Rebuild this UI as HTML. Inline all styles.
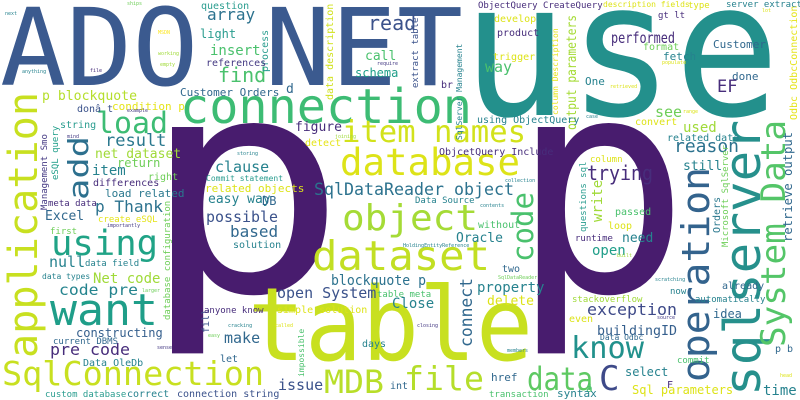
<!DOCTYPE html>
<html><head><meta charset="utf-8"><title>Word cloud</title>
<style>
html,body{margin:0;padding:0;background:#fff;}
svg{display:block;}
text{font-family:"DejaVu Sans Mono","Liberation Mono",monospace;}
</style></head>
<body>
<svg width="800" height="400" viewBox="0 0 800 400" xmlns="http://www.w3.org/2000/svg">
<rect width="800" height="400" fill="#ffffff"/>
<!-- giant words -->
<text transform="translate(140,291) scale(1.15,1)" font-size="300" fill="#481c6e">p</text>
<text x="510" y="291" font-size="300" fill="#481c6e">p</text>
<text x="0" y="85" font-size="107" fill="#3b5a8f" textLength="463" lengthAdjust="spacingAndGlyphs">ADO NET</text>
<text x="462" y="115" font-size="187" fill="#23908c" textLength="318" lengthAdjust="spacingAndGlyphs">use</text>
<text x="248" y="360" font-size="102" fill="#c8e020" textLength="285" lengthAdjust="spacingAndGlyphs">table</text>
<text x="180" y="123" font-size="48" fill="#3dbc74" textLength="292" lengthAdjust="spacingAndGlyphs">connection</text>
<text x="342" y="142" font-size="30" fill="#d2e21b" textLength="184" lengthAdjust="spacingAndGlyphs">item names</text>
<text x="340" y="175" font-size="37" fill="#dde318" textLength="180" lengthAdjust="spacingAndGlyphs">database</text>
<text x="314" y="195" font-size="17" fill="#2c728e" textLength="200" lengthAdjust="spacingAndGlyphs">SqlDataReader object</text>
<text x="342" y="230" font-size="36" fill="#a5db36" textLength="136" lengthAdjust="spacingAndGlyphs">object</text>
<text x="312" y="270" font-size="41" fill="#c2df23" textLength="178" lengthAdjust="spacingAndGlyphs">dataset</text>
<text x="331" y="285" font-size="14" fill="#2c728e" textLength="95" lengthAdjust="spacingAndGlyphs">blockquote p</text>
<text x="96" y="133" font-size="29" fill="#3dbc74" textLength="72" lengthAdjust="spacingAndGlyphs">load</text>
<text x="51" y="255" font-size="35" fill="#20a386" textLength="107" lengthAdjust="spacingAndGlyphs">using</text>
<text x="50" y="325" font-size="44" fill="#1f9e89" textLength="108" lengthAdjust="spacingAndGlyphs">want</text>
<text x="2" y="385" font-size="33" fill="#c8e020" textLength="262" lengthAdjust="spacingAndGlyphs">SqlConnection</text>
<text x="324" y="393" font-size="32" fill="#b8de29" textLength="60" lengthAdjust="spacingAndGlyphs">MDB</text>
<text x="404" y="390" font-size="33" fill="#b5de2b" textLength="80" lengthAdjust="spacingAndGlyphs">file</text>
<text x="527" y="390" font-size="32" fill="#5ec962" textLength="66" lengthAdjust="spacingAndGlyphs">data</text>
<text x="571" y="358" font-size="30" fill="#21918c" textLength="73" lengthAdjust="spacingAndGlyphs">know</text>
<text x="599" y="390" font-size="34" fill="#3e4a89">C</text>
<text x="587" y="315" font-size="16" fill="#3e4a89" textLength="90" lengthAdjust="spacingAndGlyphs">exception</text>
<text x="597" y="335" font-size="13" fill="#355f8d" textLength="80" lengthAdjust="spacingAndGlyphs">buildingID</text>
<text x="587" y="180" font-size="20" fill="#472d7b" textLength="66" lengthAdjust="spacingAndGlyphs">trying</text>
<text x="674" y="152" font-size="18" fill="#2c728e" textLength="65" lengthAdjust="spacingAndGlyphs">reason</text>
<text x="611" y="43" font-size="15" fill="#472d7b" textLength="64" lengthAdjust="spacingAndGlyphs">performed</text>
<text x="206" y="222" font-size="15" fill="#3b528b" textLength="72" lengthAdjust="spacingAndGlyphs">possible</text>
<text x="95" y="212" font-size="16" fill="#2c728e" textLength="68" lengthAdjust="spacingAndGlyphs">p Thank</text>
<text x="59" y="295" font-size="15" fill="#25848e" textLength="79" lengthAdjust="spacingAndGlyphs">code pre</text>
<text x="50" y="355" font-size="16" fill="#472d7b" textLength="80" lengthAdjust="spacingAndGlyphs">pre code</text>
<text x="42" y="100" font-size="13" fill="#b5de2b" textLength="95" lengthAdjust="spacingAndGlyphs">p blockquote</text>
<text x="218" y="82" font-size="20" fill="#4ac16d">find</text>
<text x="368" y="30" font-size="20" fill="#3b528b">read</text>
<text x="207" y="20" font-size="16" fill="#2c728e">array</text>
<!-- vertical words -->
<text transform="translate(37,358) rotate(-90)" font-size="40" fill="#c8e020" textLength="266" lengthAdjust="spacingAndGlyphs">application</text>
<text transform="translate(88,200) rotate(-90)" font-size="28" fill="#2d708e" textLength="64" lengthAdjust="spacingAndGlyphs">add</text>
<text transform="translate(533,262) rotate(-90)" font-size="29" fill="#4ac16d" textLength="70" lengthAdjust="spacingAndGlyphs">code</text>
<text transform="translate(709,382) rotate(-90)" font-size="38" fill="#33638d" textLength="215" lengthAdjust="spacingAndGlyphs">operation</text>
<text transform="translate(760,396) rotate(-90)" font-size="50" fill="#26908c" textLength="276" lengthAdjust="spacingAndGlyphs">sqlserver</text>
<text transform="translate(785,347) rotate(-90)" font-size="34" fill="#54c568" textLength="227" lengthAdjust="spacingAndGlyphs">System Data</text>
<text transform="translate(472,347) rotate(-90)" font-size="17" fill="#31688e" textLength="69" lengthAdjust="spacingAndGlyphs">connect</text>
<text transform="translate(576,130) rotate(-90)" font-size="13" fill="#a5db36" textLength="115" lengthAdjust="spacingAndGlyphs">output parameters</text>
<text transform="translate(792,242) rotate(-90)" font-size="12" fill="#31688e" textLength="110" lengthAdjust="spacingAndGlyphs">retrieve output</text>
<text transform="translate(728,247) rotate(-90)" font-size="9" fill="#6ece58" textLength="102" lengthAdjust="spacingAndGlyphs">Microsoft SqlServer</text>
<text transform="translate(720,233) rotate(-90)" font-size="10" fill="#2a788e">Orders</text>
<text transform="translate(602,222) rotate(-90)" font-size="14" fill="#a0da39">write</text>
<text transform="translate(586,232) rotate(-90)" font-size="9" fill="#2a9d8f">questions sql</text>
<text transform="translate(333,100) rotate(-90)" font-size="10" fill="#d0e11c">data description</text>
<text transform="translate(268,72) rotate(-90)" font-size="10" fill="#2a9d8f">process</text>
<text transform="translate(418,88) rotate(-90)" font-size="9" fill="#3b528b">extract table</text>
<text transform="translate(462,140) rotate(-90)" font-size="8" fill="#26828e">SqlServer Management</text>
<text transform="translate(558,115) rotate(-90)" font-size="8" fill="#e5e419">column Description</text>
<text transform="translate(797,120) rotate(-90)" font-size="10" fill="#e5e419">Odbc OdbcConnection</text>
<text transform="translate(47,210) rotate(-90)" font-size="9" fill="#443983">Management Smo</text>
<text transform="translate(58,180) rotate(-90)" font-size="9" fill="#1f9e89">eSQL query</text>
<text transform="translate(170,320) rotate(-90)" font-size="9" fill="#6ece58">database configuration</text>
<text transform="translate(304,377) rotate(-90)" font-size="8" fill="#4ac16d">impossible</text>
<text transform="translate(209,333) rotate(-90)" font-size="10" fill="#3b528b">fill</text>
<!-- small horizontal words -->
<g>
<text x="201" y="9" font-size="10" fill="#2a9d8f">question</text>
<text x="200" y="38" font-size="12" fill="#2a9d8f">light</text>
<text x="210" y="55" font-size="14" fill="#4ac16d">insert</text>
<text x="206" y="66" font-size="10" fill="#443983">references</text>
<text x="365" y="60" font-size="13" fill="#4ac16d">call</text>
<text x="355" y="77" font-size="12" fill="#1f9e89">schema</text>
<text x="180" y="96" font-size="11" fill="#31688e">Customer Orders</text>
<text x="286" y="93" font-size="13" fill="#31688e">d</text>
<text x="112" y="110" font-size="11" fill="#e5e419">condition p</text>
<text x="77" y="112" font-size="10" fill="#3b528b">donâ t</text>
<text x="60" y="128" font-size="10" fill="#2a9d8f">string</text>
<text x="105" y="146" font-size="17" fill="#2a788e">result</text>
<text x="95" y="158" font-size="13" fill="#a0da39">net dataset</text>
<text x="117" y="167" font-size="12" fill="#6ece58">return</text>
<text x="92" y="175" font-size="14" fill="#26828e">item</text>
<text x="148" y="180" font-size="10" fill="#6ece58">right</text>
<text x="93" y="186" font-size="10" fill="#472d7b">differences</text>
<text x="105" y="197" font-size="11" fill="#2a788e">load related</text>
<text x="295" y="131" font-size="13" fill="#472d7b">figure</text>
<text x="305" y="146" font-size="10" fill="#e5e419">detect</text>
<text x="215" y="172" font-size="15" fill="#26828e">clause</text>
<text x="206" y="181" font-size="8" fill="#2a9d8f">Commit statement</text>
<text x="205" y="192" font-size="11" fill="#dde318">related objects</text>
<text x="208" y="203" font-size="13" fill="#26828e">easy way</text>
<text x="262" y="205" font-size="12" fill="#31688e">DB</text>
<text x="230" y="237" font-size="16" fill="#31688e">based</text>
<text x="233" y="248" font-size="10" fill="#26828e">solution</text>
<text x="277" y="298" font-size="15" fill="#3b528b">open System</text>
<text x="204" y="313" font-size="9" fill="#472d7b">anyone know</text>
<text x="277" y="313" font-size="10" fill="#dde318">simple solution</text>
<text x="224" y="343" font-size="15" fill="#31688e">make</text>
<text x="220" y="362" font-size="10" fill="#31688e">let</text>
<text x="362" y="347" font-size="10" fill="#26828e">days</text>
<text x="278" y="390" font-size="15" fill="#3b528b">issue</text>
<text x="390" y="389" font-size="10" fill="#31688e">int</text>
<text x="45" y="220" font-size="13" fill="#31688e">Excel</text>
<text x="48" y="206" font-size="9" fill="#472d7b">meta data</text>
<text x="98" y="222" font-size="9" fill="#e5e419">create eSQL</text>
<text x="50" y="234" font-size="9" fill="#6ece58">first</text>
<text x="49" y="267" font-size="15" fill="#26828e">null</text>
<text x="85" y="266" font-size="9" fill="#26828e">data field</text>
<text x="42" y="279" font-size="8" fill="#26828e">data types</text>
<text x="93" y="283" font-size="14" fill="#a0da39">Net code</text>
<text x="76" y="337" font-size="12" fill="#355f8d">constructing</text>
<text x="53" y="344" font-size="9" fill="#31688e">current DBMS</text>
<text x="83" y="366" font-size="10" fill="#26828e">Data OleDb</text>
<text x="45" y="397" font-size="9" fill="#2a9d8f">custom database</text>
<text x="127" y="397" font-size="10" fill="#26828e">correct</text>
<text x="177" y="397" font-size="10" fill="#3b528b">connection string</text>
<text x="478" y="8" font-size="9" fill="#472d7b">ObjectQuery CreateQuery</text>
<text x="603" y="7" font-size="8" fill="#dde318">description fields</text>
<text x="688" y="8" font-size="9" fill="#dde318">type</text>
<text x="726" y="7" font-size="9" fill="#26828e">server extract</text>
<text x="494" y="22" font-size="10" fill="#dde318">develop</text>
<text x="658" y="18" font-size="9" fill="#472d7b">gt lt</text>
<text x="497" y="36" font-size="10" fill="#472d7b">product</text>
<text x="643" y="50" font-size="10" fill="#6ece58">format</text>
<text x="713" y="48" font-size="11" fill="#31688e">Customer</text>
<text x="493" y="60" font-size="10" fill="#dde318">trigger</text>
<text x="663" y="60" font-size="11" fill="#26828e">fetch</text>
<text x="485" y="72" font-size="15" fill="#4ac16d">way</text>
<text x="732" y="80" font-size="11" fill="#31688e">done</text>
<text x="585" y="85" font-size="11" fill="#26828e">One</text>
<text x="717" y="92" font-size="17" fill="#472d7b">EF</text>
<text x="441" y="88" font-size="10" fill="#472d7b">br</text>
<text x="655" y="117" font-size="15" fill="#6ece58">see</text>
<text x="477" y="123" font-size="10" fill="#26828e">using ObjectQuery</text>
<text x="635" y="125" font-size="10" fill="#dde318">convert</text>
<text x="683" y="132" font-size="14" fill="#a0da39">used</text>
<text x="667" y="141" font-size="10" fill="#26828e">related data</text>
<text x="439" y="155" font-size="10" fill="#472d7b">ObjcetQuery Include</text>
<text x="590" y="162" font-size="9" fill="#dde318">column</text>
<text x="683" y="170" font-size="13" fill="#26828e">still</text>
<text x="415" y="203" font-size="9" fill="#26828e">Data Source</text>
<text x="478" y="228" font-size="10" fill="#4ac16d">without</text>
<text x="456" y="242" font-size="13" fill="#26828e">Oracle</text>
<text x="575" y="241" font-size="9" fill="#472d7b">runtime</text>
<text x="622" y="242" font-size="13" fill="#26828e">need</text>
<text x="592" y="255" font-size="14" fill="#1f9e89">open</text>
<text x="615" y="215" font-size="10" fill="#4ac16d">passed</text>
<text x="608" y="229" font-size="10" fill="#dde318">loop</text>
<text x="502" y="272" font-size="10" fill="#31688e">two</text>
<text x="477" y="292" font-size="14" fill="#26828e">property</text>
<text x="487" y="305" font-size="13" fill="#dde318">delete</text>
<text x="377" y="297" font-size="9" fill="#4ac16d">table meta</text>
<text x="392" y="308" font-size="14" fill="#26828e">Close</text>
<text x="572" y="302" font-size="9" fill="#a0da39">stackoverflow</text>
<text x="670" y="294" font-size="9" fill="#26828e">now</text>
<text x="695" y="302" font-size="9" fill="#26828e">automatically</text>
<text x="722" y="289" font-size="10" fill="#31688e">already</text>
<text x="713" y="318" font-size="12" fill="#31688e">idea</text>
<text x="569" y="322" font-size="10" fill="#dde318">even</text>
<text x="600" y="340" font-size="8" fill="#31688e">Data Odbc</text>
<text x="677" y="363" font-size="9" fill="#4ac16d">commit</text>
<text x="625" y="376" font-size="12" fill="#26828e">select</text>
<text x="667" y="388" font-size="10" fill="#472d7b">F</text>
<text x="775" y="352" font-size="10" fill="#31688e">p b</text>
<text x="491" y="381" font-size="11" fill="#31688e">href</text>
<text x="586" y="392" font-size="11" fill="#4ac16d">â</text>
<text x="489" y="397" font-size="9" fill="#4ac16d">transaction</text>
<text x="557" y="397" font-size="11" fill="#26828e">syntax</text>
<text x="632" y="394" font-size="12" fill="#dde318">Sql parameters</text>
<text x="763" y="395" font-size="14" fill="#26828e">time</text>
</g>
<g font-size="5" >
<text x="5" y="15" fill="#26828e">next</text>
<text x="127" y="5" fill="#6ece58">ships</text>
<text x="158" y="34" fill="#fde725">MSDN</text>
<text x="158" y="55" fill="#a0da39">working</text>
<text x="160" y="66" fill="#a0da39">empty</text>
<text x="22" y="73" fill="#26828e">anything</text>
<text x="90" y="72" fill="#472d7b">file</text>
<text x="377" y="65" fill="#443983">require</text>
<text x="127" y="112" fill="#443983">example</text>
<text x="67" y="138" fill="#443983">mind</text>
<text x="335" y="138" fill="#a0da39">joining</text>
<text x="237" y="155" fill="#26828e">storing</text>
<text x="107" y="227" fill="#443983">importantly</text>
<text x="142" y="292" fill="#6ece58">larger</text>
<text x="228" y="327" fill="#26828e">cracking</text>
<text x="275" y="327" fill="#dde318">called</text>
<text x="208" y="337" fill="#6ece58">easy</text>
<text x="157" y="349" fill="#443983">sense</text>
<text x="505" y="182" fill="#26828e">collection</text>
<text x="480" y="207" fill="#26828e">contents</text>
<text x="403" y="247" fill="#26828e">HoldingEntityReference</text>
<text x="498" y="279" fill="#6ece58">SqlDataReader</text>
<text x="417" y="327" fill="#443983">closing</text>
<text x="507" y="352" fill="#26828e">members</text>
<text x="617" y="257" fill="#a0da39">built</text>
<text x="655" y="281" fill="#26828e">scratching</text>
<text x="657" y="319" fill="#443983">source</text>
<text x="780" y="377" fill="#dde318">head</text>
<text x="662" y="64" fill="#dde318">populate</text>
<text x="610" y="88" fill="#dde318">retrieved</text>
<text x="586" y="118" fill="#26828e">case</text>
<text x="683" y="113" fill="#dde318">range</text>
<text x="762" y="12" fill="#dde318">lot</text>
</g>
</svg>
</body></html>
